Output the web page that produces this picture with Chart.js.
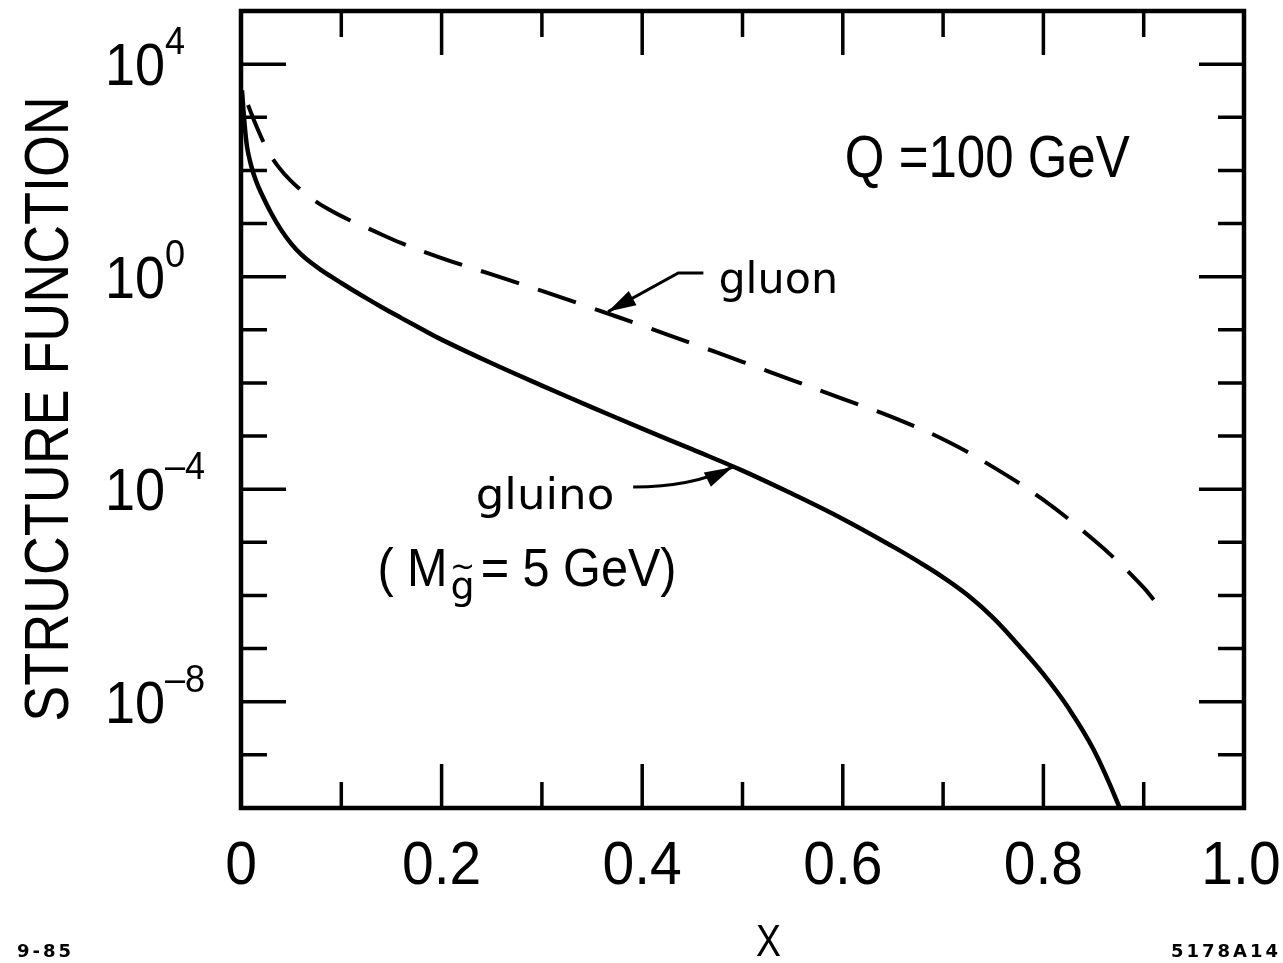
<!DOCTYPE html>
<html>
<head>
<meta charset="utf-8">
<script src="https://cdn.jsdelivr.net/npm/chart.js@4.4.1/dist/chart.umd.min.js"></script>
<style>
    html, body { margin: 0; padding: 0; background: #fff; }
    canvas { display: block; }
</style>
</head>
<body>
<canvas id="chart" width="1283" height="963"></canvas>
<script>
// gluon structure function (dashed)
const gluonX = [0.007, 0.015, 0.025, 0.036, 0.05, 0.07, 0.09, 0.11, 0.13, 0.16, 0.2, 0.25, 0.3, 0.35, 0.4,
    0.45, 0.5, 0.55, 0.6, 0.65, 0.7, 0.75, 0.8, 0.85, 0.875, 0.9, 0.91];
const gluonY = [1700, 708, 275, 126, 63, 30, 17.4, 11.2, 7.6, 4.27, 2.24, 1.1, 0.54, 0.257, 0.12,
    0.055, 0.025, 0.0112, 5.0e-3, 2.24e-3, 8.7e-4, 2.6e-4, 6.3e-5, 1.12e-5, 4.2e-6, 1.4e-6, 8.3e-7];

// gluino structure function (solid), M = 5 GeV
const gluinoX = [0.001, 0.003, 0.006, 0.01, 0.015, 0.02, 0.03, 0.04, 0.05, 0.06, 0.07, 0.08, 0.09, 0.1, 0.11,
    0.12, 0.14, 0.16, 0.18, 0.2, 0.25, 0.3, 0.35, 0.4, 0.45, 0.5, 0.55, 0.6, 0.65, 0.675, 0.7, 0.725, 0.75,
    0.775, 0.8, 0.825, 0.85, 0.875, 0.9];
const gluinoY = [3200, 1000, 282, 126, 63, 38, 15.8, 7.6, 4.2, 2.63, 1.82, 1.33, 1.0, 0.76, 0.58,
    0.447, 0.269, 0.166, 0.1035, 0.0653, 0.0234, 0.0089, 3.47e-3, 1.38e-3, 5.6e-4, 2.24e-4, 8.1e-5, 2.75e-5, 8.3e-6, 4.37e-6, 2.2e-6, 1.0e-6, 3.8e-7,
    1.17e-7, 3.3e-8, 7.6e-9, 1.26e-9, 1.12e-10, 6.3e-12];

const xTicks = [0, 0.1, 0.2, 0.3, 0.4, 0.5, 0.6, 0.7, 0.8, 0.9, 1.0];
const xTickLabels = ['0', '', '0.2', '', '0.4', '', '0.6', '', '0.8', '', '1.0'];
const yDecades = [4, 3, 2, 1, 0, -1, -2, -3, -4, -5, -6, -7, -8, -9];
const yLabelDecades = [4, 0, -4, -8];

const SANS = '"Liberation Sans", sans-serif';
const LOWER = '"DejaVu Sans", sans-serif';

// draws text squeezed horizontally, the lettering on the original is condensed
function text(ctx, str, x, y, font, sx = 1, align = 'left') {
    ctx.save();
    ctx.font = font;
    ctx.textAlign = align;
    ctx.translate(x, y);
    ctx.scale(sx, 1);
    ctx.fillText(str, 0, 0);
    const w = ctx.measureText(str).width * sx;
    ctx.restore();
    return w;
}

function arrowHead(ctx, from, to) {
    const ang = Math.atan2(to[1] - from[1], to[0] - from[0]);
    const len = 28, half = 8;
    ctx.beginPath();
    ctx.moveTo(to[0], to[1]);
    ctx.lineTo(to[0] - len * Math.cos(ang) + half * Math.sin(ang), to[1] - len * Math.sin(ang) - half * Math.cos(ang));
    ctx.lineTo(to[0] - len * Math.cos(ang) - half * Math.sin(ang), to[1] - len * Math.sin(ang) + half * Math.cos(ang));
    ctx.closePath();
    ctx.fill();
}

const frame = {
    id: 'frame',
    afterDraw(chart) {
        const { ctx, chartArea: a, scales: { x, y } } = chart;
        const px = v => x.getPixelForValue(v);
        const py = v => y.getPixelForValue(v);
        ctx.save();
        ctx.strokeStyle = '#000';
        ctx.fillStyle = '#000';

        // box
        ctx.lineWidth = 4.5;
        ctx.strokeRect(a.left, a.top, a.right - a.left, a.bottom - a.top);

        // inward ticks on all four sides
        ctx.lineWidth = 3.5;
        ctx.beginPath();
        xTicks.forEach((t, i) => {
            if (t === 0 || t === 1) return;
            const len = xTickLabels[i] ? 44 : 26;
            const xp = px(t);
            ctx.moveTo(xp, a.bottom); ctx.lineTo(xp, a.bottom - len);
            ctx.moveTo(xp, a.top); ctx.lineTo(xp, a.top + len);
        });
        yDecades.forEach(d => {
            const len = yLabelDecades.includes(d) ? 45 : 26;
            const yp = py(Math.pow(10, d));
            ctx.moveTo(a.left, yp); ctx.lineTo(a.left + len, yp);
            ctx.moveTo(a.right, yp); ctx.lineTo(a.right - len, yp);
        });
        ctx.stroke();

        // x tick labels
        xTicks.forEach((t, i) => {
            if (!xTickLabels[i]) return;
            const xp = Math.min(px(t), 1283 - 42);
            text(ctx, xTickLabels[i], xp, a.bottom + 76, '62px ' + SANS, 0.92, 'center');
        });

        // y tick labels 10^n
        yLabelDecades.forEach(d => {
            const yp = py(Math.pow(10, d));
            text(ctx, '10', a.left - 76, yp + 21, '60px ' + SANS, 0.9, 'right');
            text(ctx, d < 0 ? '\u2013' + (-d) : String(d), a.left - 76, yp - 10, '38px ' + SANS, 0.95);
        });

        // axis titles
        ctx.save();
        ctx.translate(68, 409);
        ctx.rotate(-Math.PI / 2);
        text(ctx, 'STRUCTURE FUNCTION', 0, 0, '63px ' + SANS, 0.855, 'center');
        ctx.restore();

        text(ctx, 'X', (a.left + a.right) / 2 + 26, 956, '44px ' + SANS, 0.85, 'center');

        ctx.save();
        ctx.letterSpacing = '3px';
        text(ctx, '9-85', 17, 957, 'bold 18px ' + LOWER);
        text(ctx, '5178A14', 1281, 957, 'bold 18px ' + LOWER, 1, 'right');
        ctx.restore();

        // Q label
        text(ctx, 'Q =100 GeV', px(0.602), py(74), '60px ' + SANS, 0.85);

        // gluon label + arrow
        text(ctx, 'gluon', px(0.476), py(0.5), '42px ' + LOWER, 1.02);
        const gTip = [px(0.366), py(0.22)];
        const gElbow = [px(0.436), py(1.17)];
        ctx.lineWidth = 3;
        ctx.beginPath();
        ctx.moveTo(px(0.461), gElbow[1]);
        ctx.lineTo(gElbow[0], gElbow[1]);
        ctx.lineTo(gTip[0], gTip[1]);
        ctx.stroke();
        arrowHead(ctx, gElbow, gTip);

        // gluino label + arrow
        text(ctx, 'gluino', px(0.234), py(4.2e-5), '43px ' + LOWER, 1.05);
        const s = [px(0.391), py(1.1e-4)];
        const c = [px(0.45), py(1.1e-4)];
        const tip = [px(0.49), py(2.6e-4)];
        ctx.beginPath();
        ctx.moveTo(s[0], s[1]);
        ctx.quadraticCurveTo(c[0], c[1], tip[0], tip[1]);
        ctx.stroke();
        arrowHead(ctx, c, tip);

        // (M_g~ = 5 GeV)
        let xx = px(0.136);
        const base = py(1.5e-6);
        xx += text(ctx, '( M', xx, base, '54px ' + SANS, 0.9) + 3;
        const gw = text(ctx, 'g', xx, base + 13, '38px ' + LOWER);
        text(ctx, '~', xx + gw / 2, base - 10, '30px ' + LOWER, 1, 'center');
        xx += gw + 6;
        text(ctx, '= 5 GeV)', xx, base, '54px ' + SANS, 0.9);

        ctx.restore();
    }
};

new Chart(document.getElementById('chart'), {
    type: 'line',
    data: {
        datasets: [{
            label: 'gluon',
            data: gluonX.map((v, i) => ({ x: v, y: gluonY[i] })),
            borderColor: '#000',
            borderWidth: 4,
            borderDash: [40, 20],
            pointRadius: 0,
            tension: 0.4,
            fill: false
        }, {
            label: 'gluino',
            data: gluinoX.map((v, i) => ({ x: v, y: gluinoY[i] })),
            borderColor: '#000',
            borderWidth: 4.5,
            pointRadius: 0,
            tension: 0.4,
            fill: false
        }]
    },
    options: {
        responsive: false,
        devicePixelRatio: 1,
        animation: false,
        layout: { padding: { left: 241, right: 39, top: 11, bottom: 155 } },
        plugins: { legend: { display: false }, tooltip: { enabled: false } },
        scales: {
            x: { type: 'linear', min: 0, max: 1, display: false },
            y: { type: 'logarithmic', min: 1e-10, max: 1e5, display: false }
        }
    },
    plugins: [frame]
});
</script>
</body>
</html>
